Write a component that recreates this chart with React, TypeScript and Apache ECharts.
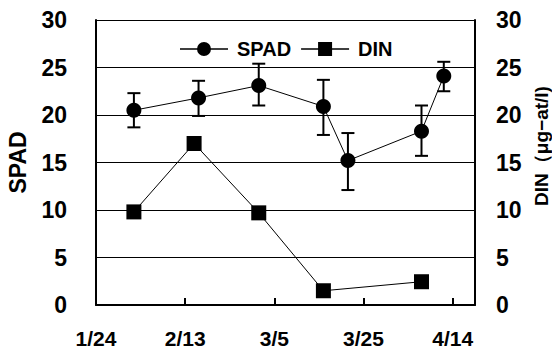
import React, { useEffect, useRef } from "react";
import * as echarts from "echarts";

const tickDays = [0, 20, 40, 60, 80];
const tickLabels = ["1/24", "2/13", "3/5", "3/25", "4/14"];

const spadDays = [8.5, 23, 36.5, 51, 56.5, 73, 78];
const spadMean = [20.5, 21.8, 23.1, 20.9, 15.2, 18.3, 24.1];
const spadLow = [18.7, 19.9, 21.0, 17.9, 12.1, 15.7, 22.5];
const spadHigh = [22.3, 23.6, 25.4, 23.7, 18.1, 21.0, 25.6];

const dinDays = [8.5, 22, 36.5, 51, 73];
const dinVal = [9.8, 17.0, 9.7, 1.5, 2.45];

const FONT = "Liberation Sans, Arial, sans-serif";

const circleIcon =
  "path://M0,6.2 L48,6.2 L48,7.8 L0,7.8 Z M17,7 A7,7 0 1,1 31,7 A7,7 0 1,1 17,7 Z";
const squareIcon =
  "path://M0,6.2 L48,6.2 L48,7.8 L0,7.8 Z M17,0 L31,0 L31,14 L17,14 Z";

export default function App() {
  const ref = useRef<HTMLDivElement>(null);
  useEffect(() => {
    if (!ref.current) return;
    const chart = echarts.init(ref.current, undefined, { renderer: "svg" });
    const labelFor = (v: number) => {
      const i = tickDays.indexOf(v);
      return i >= 0 ? tickLabels[i] : "";
    };
    chart.setOption({
      animation: false,
      backgroundColor: "#fff",
      grid: { left: 96, right: 77, top: 20, bottom: 44, containLabel: false, outerBoundsMode: "none" },
      legend: {
        left: 175,
        top: 34,
        itemWidth: 48,
        itemHeight: 14,
        itemGap: 10,
        textStyle: {
          fontFamily: FONT,
          fontWeight: "bold",
          fontSize: 20,
          color: "#000",
          padding: [0, 0, 0, 4],
        },
        data: [
          { name: "SPAD", icon: circleIcon, itemStyle: { color: "#000" } },
          { name: "DIN", icon: squareIcon, itemStyle: { color: "#000" } },
        ],
      },
      xAxis: {
        type: "value",
        min: 0,
        max: 85,
        interval: 20,
        axisLine: { show: true, lineStyle: { color: "#000", width: 2 } },
        axisTick: { show: true, inside: true, length: 7, lineStyle: { color: "#000", width: 2 } },
        splitLine: { show: false },
        axisLabel: {
          formatter: labelFor,
          margin: 23,
          fontFamily: FONT,
          fontWeight: "bold",
          fontSize: 21,
          color: "#000",
        },
      },
      yAxis: [
        {
          type: "value",
          min: 0,
          max: 30,
          interval: 5,
          name: "SPAD",
          nameLocation: "middle",
          nameGap: 67,
          nameTextStyle: { fontFamily: FONT, fontWeight: "bold", fontSize: 23, color: "#000" },
          axisLine: { show: true, lineStyle: { color: "#000", width: 2 } },
          axisTick: { show: true, inside: true, length: 9, lineStyle: { color: "#000", width: 1 } },
          splitLine: { show: true, lineStyle: { color: "#000", width: 1 } },
          axisLabel: { margin: 29, fontFamily: FONT, fontWeight: "bold", fontSize: 23, color: "#000" },
        },
        {
          type: "value",
          min: 0,
          max: 30,
          interval: 5,
          position: "right",
          axisLine: { show: true, lineStyle: { color: "#000", width: 2 } },
          axisTick: { show: true, inside: true, length: 9, lineStyle: { color: "#000", width: 1 } },
          splitLine: { show: false },
          axisLabel: { margin: 21, fontFamily: FONT, fontWeight: "bold", fontSize: 23, color: "#000" },
        },
      ],
      graphic: [
        {
          type: "text",
          x: 541,
          y: 146,
          rotation: Math.PI / 2,
          style: {
            text: "DIN（μg−at/l)",
            fontFamily: FONT,
            fontWeight: "bold",
            fontSize: 19,
            fill: "#000",
            align: "center",
            verticalAlign: "middle",
          },
        },
      ],
      series: [
        {
          type: "custom",
          name: "err",
          z: 1,
          data: spadDays.map((d, i) => [d, spadLow[i], spadHigh[i]]),
          encode: { x: 0, y: [1, 2] },
          renderItem: (params: any, api: any) => {
            const x = api.value(0);
            const lo = api.coord([x, api.value(1)]);
            const hi = api.coord([x, api.value(2)]);
            const w = 6.5;
            const style = { stroke: "#000", lineWidth: 2 };
            return {
              type: "group",
              children: [
                { type: "line", shape: { x1: lo[0], y1: lo[1], x2: hi[0], y2: hi[1] }, style },
                { type: "line", shape: { x1: lo[0] - w, y1: lo[1], x2: lo[0] + w, y2: lo[1] }, style },
                { type: "line", shape: { x1: hi[0] - w, y1: hi[1], x2: hi[0] + w, y2: hi[1] }, style },
              ],
            };
          },
        },
        {
          type: "line",
          name: "SPAD",
          z: 3,
          data: spadDays.map((d, i) => [d, spadMean[i]]),
          symbol: "circle",
          symbolSize: 15,
          itemStyle: { color: "#000" },
          lineStyle: { color: "#000", width: 1 },
        },
        {
          type: "line",
          name: "DIN",
          yAxisIndex: 1,
          z: 3,
          data: dinDays.map((d, i) => [d, dinVal[i]]),
          symbol: "rect",
          symbolSize: 15,
          itemStyle: { color: "#000" },
          lineStyle: { color: "#000", width: 1 },
        },
      ],
    });
    return () => chart.dispose();
  }, []);
  return (
    <div
      ref={ref}
      style={{ position: "fixed", left: 0, top: 0, width: 552, height: 349, background: "#fff" }}
    />
  );
}
